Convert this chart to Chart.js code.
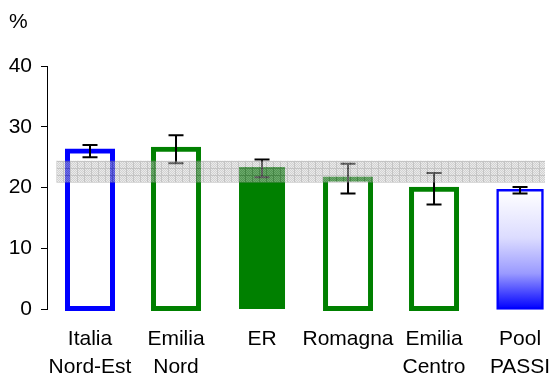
<!DOCTYPE html>
<html>
<head>
<meta charset="utf-8">
<script src="https://cdn.jsdelivr.net/npm/chart.js@4/dist/chart.umd.min.js"></script>
<style>
  html, body { margin: 0; padding: 0; background: #fff; }
  #wrap { width: 553px; height: 376px; }
</style>
</head>
<body>
<div id="wrap"><canvas id="one"></canvas></div>
<script>
// data
var categories = [["Italia", "Nord-Est"], ["Emilia", "Nord"], ["ER"], ["Romagna"], ["Emilia", "Centro"], ["Pool", "PASSI"]];
var values = [26.0, 26.3, 23.3, 21.4, 19.7, 19.55];
var errLow = [25.0, 24.0, 21.7, 19.0, 17.2, 19.0];
var errHigh = [27.0, 28.6, 24.6, 23.9, 22.4, 20.1];
var bandRange = [20.8, 24.4];
var yTicks = [0, 10, 20, 30, 40];

var borderColors = ['#0000ff', '#008000', '#008000', '#008000', '#008000', '#0000ff'];
var fillColors = ['#ffffff', '#ffffff', '#008000', '#ffffff', '#ffffff', null];
var borderWidths = [5, 5, 0, 5, 5, 2.5];
var inflate = [2.5, 2.5, 0.5, 2.5, 2.5, 1.25];

var FONT = 'Liberation Sans, Arial, sans-serif';

// grey hatched pattern for the band
function makePattern(ctx) {
  var c = document.createElement('canvas');
  c.width = 7; c.height = 7;
  var p = c.getContext('2d');
  p.fillStyle = '#a6a6a6';
  p.fillRect(0, 0, 7, 7);
  for (var i = 1; i < 7; i++) {
    for (var j = 1; j < 7; j++) {
      if ((i + j) % 2 === 0) { p.fillStyle = '#d6d6d6'; p.fillRect(i, j, 1, 1); }
    }
  }
  p.fillStyle = '#8a8a8a';
  p.fillRect(0, 0, 7, 1);
  p.fillRect(0, 0, 1, 7);
  return ctx.createPattern(c, 'repeat');
}

var extras = {
  id: 'extras',
  afterDatasetsDraw: function(chart) {
    var ctx = chart.ctx;
    var x = chart.scales.x, y = chart.scales.y;
    ctx.save();
    // error bars
    ctx.strokeStyle = '#000';
    ctx.lineWidth = 2;
    for (var i = 0; i < values.length; i++) {
      var px = x.getPixelForValue(i);
      var t = y.getPixelForValue(errHigh[i]);
      var b = y.getPixelForValue(errLow[i]);
      ctx.beginPath();
      ctx.moveTo(px, t); ctx.lineTo(px, b);
      ctx.moveTo(px - 7.5, t); ctx.lineTo(px + 7.5, t);
      ctx.moveTo(px - 7.5, b); ctx.lineTo(px + 7.5, b);
      ctx.stroke();
    }
    // reference band on top
    var top = y.getPixelForValue(bandRange[1]);
    var bot = y.getPixelForValue(bandRange[0]);
    var left = x.getPixelForValue(-0.39);
    var right = x.getPixelForValue(5.29);
    ctx.globalAlpha = 0.5;
    ctx.fillStyle = makePattern(ctx);
    ctx.fillRect(left, top, right - left, bot - top);
    ctx.globalAlpha = 1;
    // % label
    ctx.fillStyle = '#000';
    ctx.font = '21px ' + FONT;
    ctx.textBaseline = 'alphabetic';
    ctx.fillText('%', 9, 28);
    ctx.restore();
  }
};

var ctxOne = document.getElementById('one').getContext('2d');
var chartOne = new Chart(ctxOne, {
  type: 'bar',
  data: {
    datasets: [{
      data: values.map(function(v, i) { return {x: i, y: v}; }),
      barThickness: 45,
      borderSkipped: false,
      borderColor: borderColors,
      borderWidth: borderWidths,
      inflateAmount: inflate,
      clip: false,
      backgroundColor: function(c) {
        var i = c.dataIndex;
        if (fillColors[i]) return fillColors[i];
        var y = c.chart.scales.y;
        if (!y) return '#8080ff';
        var g = c.chart.ctx.createLinearGradient(0, y.getPixelForValue(values[i]), 0, y.getPixelForValue(0));
        g.addColorStop(0, '#ffffff');
        g.addColorStop(0.4, '#dcdcff');
        g.addColorStop(0.7, '#9a9aff');
        g.addColorStop(1, '#0000ff');
        return g;
      }
    }]
  },
  options: {
    responsive: true,
    maintainAspectRatio: false,
    animation: false,
    events: [],
    layout: { padding: { top: 66, right: 2, left: 0, bottom: 0 } },
    plugins: { legend: { display: false }, tooltip: { enabled: false } },
    scales: {
      x: {
        type: 'linear',
        offset: false,
        min: -0.5,
        max: 5.36,
        grid: { display: false, drawTicks: false, offset: false },
        border: { display: false },
        afterBuildTicks: function(s) { s.ticks = categories.map(function(c, i) { return {value: i}; }); },
        afterFit: function(s) { s.height = 67; s.paddingLeft = 0; s.paddingRight = 0; },
        ticks: {
          autoSkip: false,
          maxRotation: 0,
          padding: 17,
          color: '#000',
          font: { family: FONT, size: 21, lineHeight: 1.3 },
          callback: function(v) { return categories[v]; }
        }
      },
      y: {
        min: 0,
        max: 40,
        afterBuildTicks: function(s) { s.ticks = yTicks.map(function(v) { return {value: v}; }); },
        afterFit: function(s) { s.width = 47; s.paddingTop = 0; s.paddingBottom = 0; },
        grid: { drawOnChartArea: false, drawTicks: true, tickLength: 6, color: '#000', lineWidth: 1 },
        border: { display: true, color: '#000', width: 1 },
        ticks: {
          padding: 9,
          color: '#000',
          font: { family: FONT, size: 21 }
        }
      }
    }
  },
  plugins: [extras]
});
</script>
</body>
</html>
